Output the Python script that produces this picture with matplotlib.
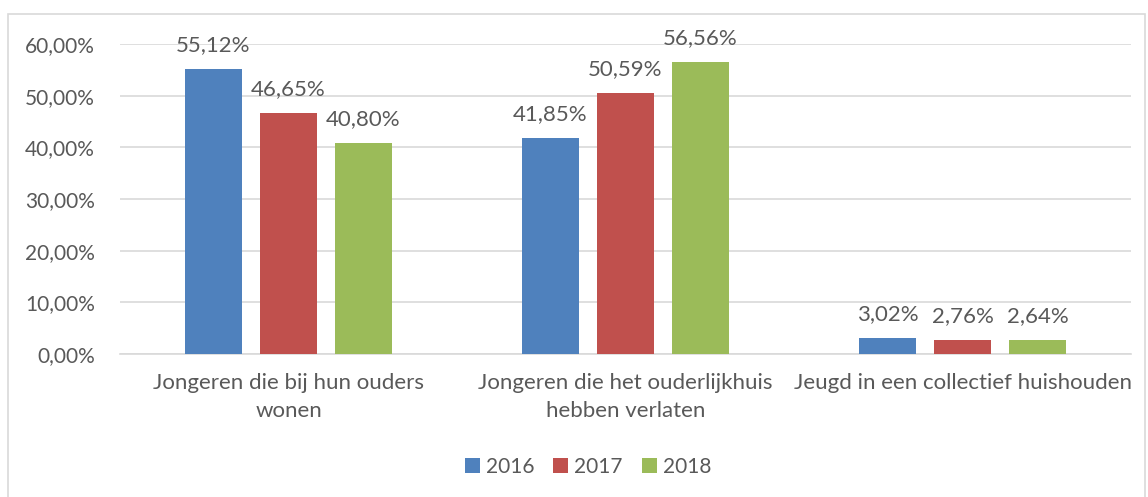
import numpy as np
import matplotlib.pyplot as plt
from matplotlib.patches import Rectangle
from matplotlib.ticker import FuncFormatter

plt.rcParams['font.family'] = ['Lato', 'DejaVu Sans']
plt.rcParams['font.size'] = 15

categories = ['Jongeren die bij hun ouders\nwonen',
              'Jongeren die het ouderlijkhuis\nhebben verlaten',
              'Jeugd in een collectief huishouden']
years = ['2016', '2017', '2018']
v2016 = [55.12, 41.85, 3.02]
v2017 = [46.65, 50.59, 2.76]
v2018 = [40.80, 56.56, 2.64]
colors = ['#4F81BD', '#C0504D', '#9BBB59']
txt = '#595959'

W, H = 1148, 497
fig = plt.figure(figsize=(W / 100, H / 100), dpi=100)
ax = fig.add_axes([120 / W, 1 - 354 / H, 1011 / W, 310 / H])

# outer border of the chart area
fig.patches.append(Rectangle((8 / W, -0.01), 1137 / W, 1 - 14 / H + 0.01,
                             transform=fig.transFigure, fill=False,
                             edgecolor='#D9D9D9', lw=1.2))

x = np.arange(len(categories))
step = 0.2226
width = 0.17
for i, (vals, yr) in enumerate(zip([v2016, v2017, v2018], years)):
    bars = ax.bar(x + (i - 1) * step, vals, width, color=colors[i], label=yr, zorder=3)
    ax.bar_label(bars, labels=[f'{v:.2f}%'.replace('.', ',') for v in vals],
                 padding=10, color=txt, fontsize=16)

ax.set_xlim(-0.5, 2.5)
ax.set_ylim(0, 60)
ax.set_yticks(np.arange(0, 61, 10))
ax.yaxis.set_major_formatter(FuncFormatter(lambda v, p: f'{v:.2f}%'.replace('.', ',')))
ax.set_xticks(x)
ax.set_xticklabels(categories, color=txt, linespacing=1.45, fontsize=16)
ax.tick_params(axis='y', colors=txt, length=0, pad=18)
ax.tick_params(axis='x', colors=txt, length=0, pad=14)
ax.grid(axis='y', color='#D9D9D9', lw=1.2, zorder=0)
for s in ['top', 'right', 'left']:
    ax.spines[s].set_visible(False)
ax.spines['bottom'].set_color('#D9D9D9')
ax.spines['bottom'].set_linewidth(1.2)

fig.legend(loc='center', bbox_to_anchor=(588 / W, 1 - 467 / H), ncol=3, frameon=False,
           handlelength=0.72, handleheight=0.72, handletextpad=0.3, columnspacing=0.9,
           labelcolor=txt, fontsize=15)

fig.savefig('out.png', dpi=100)
